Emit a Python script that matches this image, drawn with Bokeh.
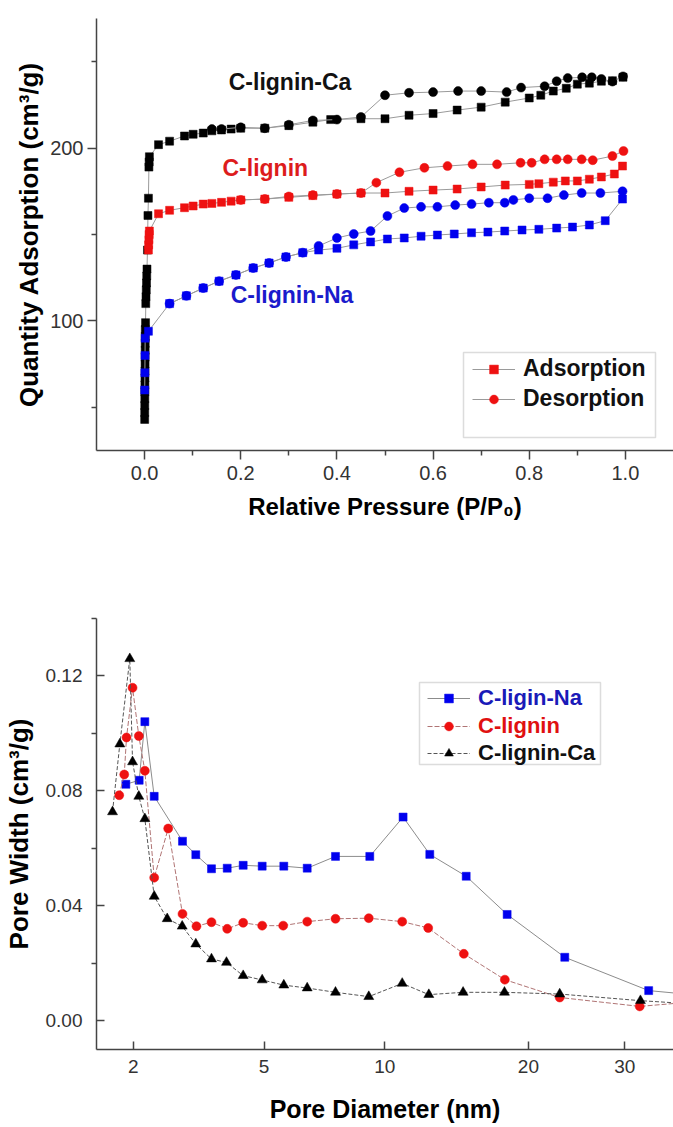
from bokeh.plotting import figure
from bokeh.layouts import column
from bokeh.models import (Range1d, FixedTicker, Legend, LegendItem, Label, BoxAnnotation,
                          CustomJSTransform, CustomJSTickFormatter, NumeralTickFormatter,
                          ColumnDataSource)
from bokeh.transform import transform
from bokeh.embed import file_html
from bokeh.resources import INLINE

# ---------------- N2 isotherms: relative pressure vs quantity adsorbed ----------------
ca_ads_p = [0.0002, 0.0003, 0.0004, 0.0005, 0.0006, 0.0007, 0.0008, 0.0009, 0.0010, 0.0011,
            0.0012, 0.0013, 0.0014, 0.0015, 0.0020, 0.0025, 0.0030, 0.0035, 0.0040, 0.0045,
            0.0050, 0.0060, 0.0070, 0.0080, 0.0090, 0.0095, 0.0100, 0.029, 0.052, 0.083,
            0.101, 0.122, 0.14, 0.16, 0.18, 0.20, 0.25, 0.30, 0.35, 0.387, 0.45, 0.50, 0.55,
            0.60, 0.65, 0.70, 0.75, 0.80, 0.824, 0.85, 0.877, 0.90, 0.925, 0.95, 0.973, 0.995]
ca_ads_q = [43, 47, 51, 55, 59, 63, 67, 71, 75, 79,
            83, 87, 91, 95, 99, 110, 114, 118, 122, 126,
            130, 141, 161, 171, 189, 192, 195, 202, 204, 207,
            208, 208.7, 210, 210.5, 211, 211.5, 211.5, 213, 215, 216.5, 217, 217, 219,
            220, 222, 223.7, 226.6, 229, 230.6, 233, 234.6, 237, 237.6, 238.7, 239, 241]
ca_des_p = [0.995, 0.973, 0.95, 0.93, 0.91, 0.88, 0.857, 0.832, 0.783, 0.753, 0.70, 0.652,
            0.60, 0.55, 0.50, 0.45, 0.40, 0.35, 0.30, 0.25, 0.20, 0.16, 0.14]
ca_des_q = [241.5, 238.5, 240, 241, 241, 240.5, 238.7, 235.8, 235, 232.4, 233, 233,
            232.4, 232, 230.6, 218, 216.5, 216, 213.5, 211.5, 212, 211, 211]

cl_ads_p = [0.008, 0.0085, 0.009, 0.0095, 0.010, 0.029, 0.052, 0.083, 0.101, 0.122, 0.14,
            0.16, 0.18, 0.20, 0.25, 0.30, 0.35, 0.40, 0.45, 0.50, 0.55, 0.60, 0.65, 0.70,
            0.75, 0.80, 0.82, 0.85, 0.875, 0.90, 0.925, 0.95, 0.977, 0.994]
cl_ads_q = [141, 144, 147, 150, 152, 162, 164, 165.5, 166.5, 167.6, 168,
            168.6, 169.3, 170, 170.5, 171.5, 172.5, 173.4, 174, 174, 175, 175.7, 176.3, 177.5,
            178.6, 179, 179.4, 180.3, 181, 181, 182, 183.3, 185, 189.6]
cl_des_p = [0.996, 0.973, 0.932, 0.909, 0.88, 0.857, 0.832, 0.805, 0.782, 0.733, 0.682,
            0.63, 0.582, 0.53, 0.482, 0.45, 0.40, 0.35, 0.30, 0.25, 0.20]
cl_des_q = [198.3, 195.4, 193, 193.5, 193.5, 193.5, 193.5, 191.5, 191.5, 190.6, 190.6,
            189.6, 188.6, 186, 180, 174, 173.4, 172.8, 172, 170.5, 170]

na_ads_p = [0.0003, 0.0006, 0.0009, 0.0012, 0.008, 0.052, 0.087, 0.122, 0.155, 0.19, 0.226,
            0.259, 0.294, 0.329, 0.362, 0.40, 0.435, 0.47, 0.505, 0.54, 0.575, 0.609, 0.644,
            0.68, 0.714, 0.749, 0.785, 0.82, 0.857, 0.89, 0.925, 0.958, 0.994]
na_ads_q = [60, 70, 80, 90, 94, 110, 114.5, 119, 123, 126.6, 130.6,
            133.5, 137, 139.5, 141, 142, 144, 145.7, 147.4, 148, 149, 149.7, 150.3,
            151, 151.4, 152, 152.6, 153, 153.7, 154.3, 155.5, 158, 170.5]
na_des_p = [0.994, 0.948, 0.909, 0.872, 0.838, 0.80, 0.767, 0.749, 0.716, 0.68, 0.646, 0.609,
            0.575, 0.54, 0.505, 0.47, 0.435, 0.40, 0.362, 0.329, 0.294, 0.259, 0.226, 0.19,
            0.155, 0.122, 0.087, 0.052]
na_des_q = [175, 174, 174, 172.8, 171, 171, 170, 168.4, 168.4, 167.6, 167, 166,
            166, 165.3, 160.7, 152, 150.3, 148, 143.4, 139.5, 137, 133.5, 130.6, 126.6,
            123, 119, 114.5, 110]

p_ticks = [0.0, 0.2, 0.4, 0.6, 0.8, 1.0]
p_minor = [0.1, 0.3, 0.5, 0.7, 0.9]
q_ticks = [100, 200]
q_minor = [50, 150, 250]

# ---------------- pore size distribution ----------------
na_d = [1.885, 2.094, 2.188, 2.350, 2.895, 3.182, 3.547, 3.943, 4.379, 4.943, 5.65, 6.497,
        7.645, 9.232, 11.0, 12.59, 15.03, 18.18, 23.42, 32.98, 45.0]
na_w = [0.0823, 0.0837, 0.1041, 0.0781, 0.0625, 0.0578, 0.0529, 0.0531, 0.0541, 0.0538,
        0.0538, 0.0531, 0.0572, 0.0572, 0.0709, 0.0579, 0.0503, 0.0370, 0.0221, 0.0105, 0.0078]
cl_d = [1.787, 1.861, 1.895, 1.988, 2.088, 2.188, 2.350, 2.609, 2.895, 3.197, 3.547, 3.943,
        4.379, 4.943, 5.629, 6.497, 7.645, 9.183, 10.95, 12.49, 14.86, 17.99, 22.92, 31.84, 45.0]
cl_w = [0.0785, 0.0857, 0.0986, 0.1159, 0.0991, 0.0870, 0.0498, 0.0669, 0.0372, 0.0329,
        0.0343, 0.0320, 0.0341, 0.0331, 0.0331, 0.0345, 0.0355, 0.0357, 0.0345, 0.0323,
        0.0233, 0.0143, 0.0081, 0.0050, 0.0077]
ca_d = [1.692, 1.796, 1.945, 1.988, 2.088, 2.188, 2.350, 2.590, 2.889, 3.182, 3.547, 3.924,
        4.379, 4.943, 5.65, 6.497, 7.645, 9.183, 10.95, 12.53, 14.81, 17.96, 22.92, 31.93, 45.0]
ca_w = [0.0727, 0.0963, 0.126, 0.0901, 0.0781, 0.0703, 0.0433, 0.0355, 0.0329, 0.0267,
        0.0215, 0.0203, 0.0157, 0.0142, 0.0124, 0.0114, 0.0099, 0.0084, 0.0130, 0.0091,
        0.0099, 0.0099, 0.0093, 0.0070, 0.0050]

d_ticks = [2, 5, 10, 20, 30]
w_ticks = [0.0, 0.04, 0.08, 0.12]
w_minor = [0.02, 0.06, 0.10, 0.14]

FONT = "Liberation Sans"
W = 673
BLUE, RED, BLACK = "#0000ee", "#ee1111", "#000000"
LINE_GRAY = "#9a9a9a"
AXIS = "#444444"


def style_axes(fig):
    for ax in (fig.xaxis[0], fig.yaxis[0]):
        ax.axis_line_color = AXIS
        ax.axis_line_width = 1.5
        ax.major_tick_line_color = AXIS
        ax.major_tick_line_width = 1.5
        ax.minor_tick_line_color = AXIS
        ax.minor_tick_line_width = 1.5
        ax.major_label_text_font = FONT
        ax.major_label_text_color = "#333333"
        ax.axis_label_text_font = FONT
        ax.axis_label_text_font_style = "bold"
        ax.axis_label_text_color = "#000000"
    fig.xgrid.visible = False
    fig.ygrid.visible = False
    fig.outline_line_color = None


# ================= isotherm panel =================
top = figure(width=W, height=560, output_backend="svg", toolbar_location=None,
             x_range=Range1d(-0.1, 1.1), y_range=Range1d(25, 275),
             min_border_left=96, min_border_right=0, min_border_top=18,
             min_border_bottom=110)
style_axes(top)

top.xaxis.ticker = FixedTicker(ticks=p_ticks, minor_ticks=p_minor)
top.xaxis.formatter = NumeralTickFormatter(format="0.0")
top.yaxis.ticker = FixedTicker(ticks=q_ticks, minor_ticks=q_minor)
for ax in (top.xaxis[0], top.yaxis[0]):
    ax.major_tick_in = 0
    ax.major_tick_out = 9
    ax.minor_tick_in = 0
    ax.minor_tick_out = 5
    ax.major_label_text_font_size = "20px"
top.xaxis.major_label_standoff = 6
top.yaxis.major_label_standoff = 4
top.xaxis.axis_label = "Relative Pressure (P/P\u2080)"
top.xaxis.axis_label_text_font_size = "24px"
top.xaxis.axis_label_standoff = 10
top.yaxis.axis_label = "Quantity Adsorption (cm\u00b3/g)"
top.yaxis.axis_label_text_font_size = "26px"
top.yaxis.axis_label_standoff = 3


def isotherm(fig, ads_p, ads_q, des_p, des_q, color):
    la = fig.line(ads_p, ads_q, line_color=LINE_GRAY, line_width=1)
    sa = fig.scatter(ads_p, ads_q, marker="square", size=8, fill_color=color,
                     line_color=color, line_width=0.5)
    ld = fig.line(des_p, des_q, line_color=LINE_GRAY, line_width=1)
    sd = fig.scatter(des_p, des_q, marker="circle", size=9, fill_color=color,
                     line_color=color, line_width=0.5)
    return la, sa, ld, sd


isotherm(top, ca_ads_p, ca_ads_q, ca_des_p, ca_des_q, BLACK)
isotherm(top, na_ads_p, na_ads_q, na_des_p, na_des_q, BLUE)
r_la, r_sa, r_ld, r_sd = isotherm(top, cl_ads_p, cl_ads_q, cl_des_p, cl_des_q, RED)

for txt, x, y, c in [("C-lignin-Ca", 0.175, 238, "#111111"),
                     ("C-lignin", 0.162, 188.2, "#dd1c1c"),
                     ("C-lignin-Na", 0.179, 114.7, "#1a1acc")]:
    top.add_layout(Label(x=x, y=y, text=txt, text_font=FONT, text_font_style="bold",
                         text_font_size="23px", text_color=c, text_baseline="middle",
                         text_align="left"))

top_legend = Legend(items=[LegendItem(label="Adsorption", renderers=[r_la, r_sa]),
                           LegendItem(label="Desorption", renderers=[r_ld, r_sd])],
                    location=(376, 38), padding=0, spacing=3, margin=0,
                    glyph_width=43, glyph_height=22, label_height=26, label_standoff=8,
                    label_text_font=FONT, label_text_font_style="bold",
                    label_text_font_size="23px", label_text_color="#111111",
                    border_line_alpha=0, background_fill_alpha=0)
top.add_layout(top_legend)
top.add_layout(BoxAnnotation(left=367, right=559, bottom=13, top=98,
                             left_units="screen", right_units="screen",
                             bottom_units="screen", top_units="screen",
                             fill_alpha=0, line_color="#8a8a8a", line_width=1.5))

# ================= pore size distribution panel =================
PW = 0.25  # horizontal axis is spaced by d**0.25
pw = CustomJSTransform(args=dict(k=PW), func="return Math.pow(x, k)",
                       v_func="return xs.map((x) => Math.pow(x, k))")

bot = figure(width=W, height=567, output_backend="svg", toolbar_location=None,
             x_range=Range1d(1.48 ** PW, 36.3 ** PW), y_range=Range1d(-0.01, 0.14),
             min_border_left=96, min_border_right=0, min_border_top=58,
             min_border_bottom=78)
style_axes(bot)
bot.xaxis.ticker = FixedTicker(ticks=[t ** PW for t in d_ticks], minor_ticks=[])
bot.xaxis.formatter = CustomJSTickFormatter(args=dict(k=PW),
                                            code="return Math.round(Math.pow(tick, 1 / k)).toString()")
bot.yaxis.ticker = FixedTicker(ticks=w_ticks, minor_ticks=w_minor)
bot.yaxis.formatter = NumeralTickFormatter(format="0.00")
for ax in (bot.xaxis[0], bot.yaxis[0]):
    ax.major_tick_in = 8
    ax.major_tick_out = 0
    ax.minor_tick_in = 0
    ax.minor_tick_out = 5
    ax.major_label_text_font_size = "19px"
bot.xaxis.major_label_standoff = 10
bot.yaxis.major_label_standoff = 9
bot.xaxis.axis_label = "Pore Diameter (nm)"
bot.xaxis.axis_label_text_font_size = "25px"
bot.xaxis.axis_label_standoff = 19
bot.yaxis.axis_label = "Pore Width (cm\u00b3/g)"
bot.yaxis.axis_label_text_font_size = "26px"
bot.yaxis.axis_label_standoff = 9


def psd(fig, d, w, color, marker, size, lcolor, ldash):
    src = ColumnDataSource(dict(d=d, w=w))
    ln = fig.line(transform("d", pw), "w", source=src, line_color=lcolor, line_width=1,
                  line_dash=ldash)
    sc = fig.scatter(transform("d", pw), "w", source=src, marker=marker, size=size,
                     fill_color=color, line_color=color, line_width=0.5)
    return ln, sc


na_r = psd(bot, na_d, na_w, BLUE, "square", 8, "#8c8c8c", "solid")
cl_r = psd(bot, cl_d, cl_w, RED, "circle", 9, "#b07474", "5 2")
ca_r = psd(bot, ca_d, ca_w, BLACK, "triangle", 10, "#555555", "4 2")

for (label, rends, tcolor, ybot) in [("C-ligin-Na", na_r, "#1a1ab8", 338.5),
                                     ("C-lignin", cl_r, "#e01010", 310.5),
                                     ("C-lignin-Ca", ca_r, "#111111", 283.5)]:
    bot.add_layout(Legend(items=[LegendItem(label=label, renderers=list(rends))],
                          location=(331, ybot), padding=0, spacing=0, margin=0,
                          glyph_width=43, glyph_height=22, label_height=25,
                          label_standoff=8, label_text_font=FONT,
                          label_text_font_style="bold", label_text_font_size="22px",
                          label_text_color=tcolor, border_line_alpha=0,
                          background_fill_alpha=0))
bot.add_layout(BoxAnnotation(left=323, right=504, bottom=285, top=367,
                             left_units="screen", right_units="screen",
                             bottom_units="screen", top_units="screen",
                             fill_alpha=0, line_color="#8a8a8a", line_width=1.5))

layout = column(top, bot, spacing=0)
open("out.html", "w").write(file_html(layout, INLINE))
